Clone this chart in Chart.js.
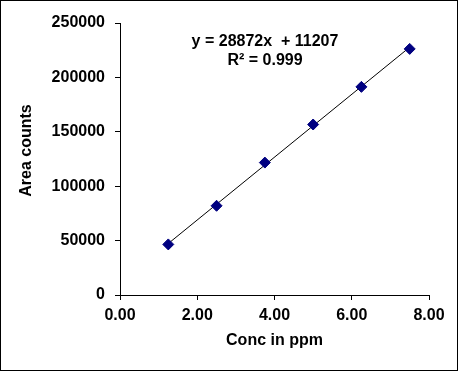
<!DOCTYPE html>
<html>
<head>
<meta charset="utf-8">
<script src="https://cdn.jsdelivr.net/npm/chart.js@4"></script>
<style>
  html, body { margin: 0; padding: 0; background: #fff; }
  #frame { width: 456px; height: 369px; border: 1px solid #000; position: relative; }
  canvas { display: block; }
</style>
</head>
<body>
<div id="frame"><canvas id="c" width="456" height="369"></canvas></div>
<script>
// Data
const concPpm = [1.25, 2.50, 3.75, 5.00, 6.25, 7.50];
const areaCounts = [46500, 82000, 121700, 156700, 191300, 226200];
const trendX = [1.25, 7.50];
const trendY = [47297, 227747];
const xTicks = [0, 2, 4, 6, 8];
const yTicks = [0, 50000, 100000, 150000, 200000, 250000];
const xTitle = 'Conc in ppm';
const yTitle = 'Area counts';
const eqLine1 = 'y = 28872x  + 11207';
const eqLine2 = 'R² = 0.999';

const FONT = '"Liberation Sans", Arial, sans-serif';

const textPlugin = {
  id: 'texts',
  afterDraw(chart) {
    const ctx = chart.ctx;
    const a = chart.chartArea;
    ctx.save();
    ctx.fillStyle = '#000';
    ctx.font = 'bold 16px ' + FONT;
    ctx.textBaseline = 'alphabetic';
    ctx.textAlign = 'center';
    // x title
    ctx.fillText(xTitle, (a.left + a.right) / 2, 344);
    // equation
    ctx.fillText(eqLine1, 264, 44.5);
    ctx.fillText(eqLine2, 264, 64);
    // y title
    ctx.translate(29.5, 149.5);
    ctx.rotate(-Math.PI / 2);
    ctx.fillText(yTitle, 0, 0);
    ctx.restore();
  }
};

const tickFont = { family: FONT, size: 16, weight: 'bold' };

new Chart(document.getElementById('c'), {
  type: 'scatter',
  data: {
    datasets: [
      {
        label: 'Area',
        data: concPpm.map((x, i) => ({ x: x, y: areaCounts[i] })),
        pointStyle: 'rectRot',
        pointRadius: 5.5,
        pointBackgroundColor: '#000080',
        pointBorderColor: '#000080',
        pointBorderWidth: 1,
        showLine: false
      },
      {
        label: 'Trend',
        data: trendX.map((x, i) => ({ x: x, y: trendY[i] })),
        showLine: true,
        borderColor: '#000',
        borderWidth: 1,
        pointRadius: 0,
        fill: false
      }
    ]
  },
  options: {
    responsive: false,
    animation: false,
    devicePixelRatio: 1,
    layout: { padding: { left: 0, right: 28, top: 22, bottom: 0 } },
    plugins: { legend: { display: false }, tooltip: { enabled: false } },
    scales: {
      x: {
        type: 'linear',
        min: 0, max: 8,
        afterBuildTicks: (s) => { s.ticks = xTicks.map(v => ({ value: v })); },
        afterFit: (s) => { s.height = 75; },
        ticks: {
          color: '#000', font: tickFont, padding: 6, maxRotation: 0, autoSkip: false,
          callback: (v) => Number(v).toFixed(2)
        },
        grid: { drawOnChartArea: false, drawTicks: true, tickLength: 5, color: '#000', lineWidth: 1 },
        border: { display: true, color: '#000', width: 1 }
      },
      y: {
        type: 'linear',
        min: 0, max: 250000,
        afterBuildTicks: (s) => { s.ticks = yTicks.map(v => ({ value: v })); },
        afterFit: (s) => { s.width = 119; },
        ticks: {
          color: '#000', font: tickFont, padding: 10, autoSkip: false,
          callback: (v) => String(v)
        },
        grid: { drawOnChartArea: false, drawTicks: true, tickLength: 5, color: '#000', lineWidth: 1 },
        border: { display: true, color: '#000', width: 1 }
      }
    }
  },
  plugins: [textPlugin]
});
</script>
</body>
</html>
